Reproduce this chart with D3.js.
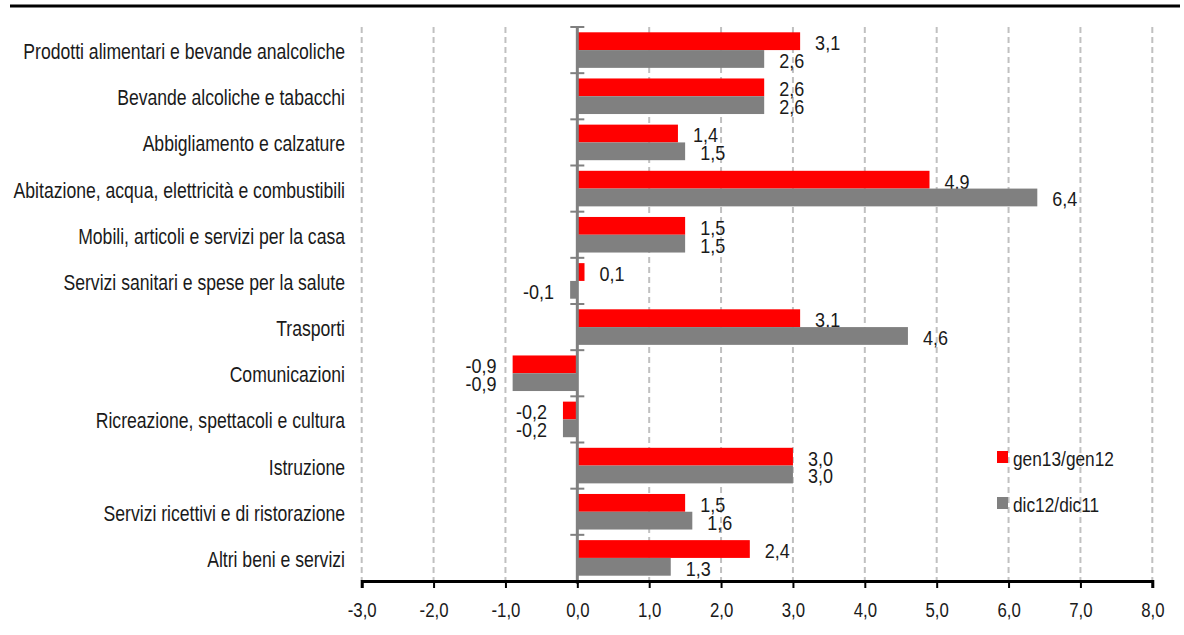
<!DOCTYPE html>
<html>
<head>
<meta charset="utf-8">
<title>Inflazione per capitolo</title>
<script src="https://cdnjs.cloudflare.com/ajax/libs/d3/7.8.5/d3.min.js"></script>
<style>
  html, body { margin: 0; background: #fff; }
  svg text { font-family: "Liberation Sans", Arial, sans-serif; fill: #1a1a1a; }
</style>
</head>
<body>
<svg id="chart" width="1184" height="635"></svg>
<script>
// capitoli di spesa
var categories = [
  "Prodotti alimentari e bevande analcoliche",
  "Bevande alcoliche e tabacchi",
  "Abbigliamento e calzature",
  "Abitazione, acqua, elettricità e combustibili",
  "Mobili, articoli e servizi per la casa",
  "Servizi sanitari e spese per la salute",
  "Trasporti",
  "Comunicazioni",
  "Ricreazione, spettacoli e cultura",
  "Istruzione",
  "Servizi ricettivi e di ristorazione",
  "Altri beni e servizi"
];
var seriesNames = ["gen13/gen12", "dic12/dic11"];
var gen13 = [3.1, 2.6, 1.4, 4.9, 1.5, 0.1, 3.1, -0.9, -0.2, 3.0, 1.5, 2.4];
var dic12 = [2.6, 2.6, 1.5, 6.4, 1.5, -0.1, 4.6, -0.9, -0.2, 3.0, 1.6, 1.3];
var xTicks = [-3, -2, -1, 0, 1, 2, 3, 4, 5, 6, 7, 8];
var colors = ["#ff0000", "#808080"];

var svg = d3.select("#chart");
var fmt = function(v) { return v.toFixed(1).replace(".", ","); };
// testo stretto tipo Arial Narrow: scala solo in orizzontale
var narrow = function(px, py, sx) { return "translate(" + px + "," + py + ") scale(" + sx + ",1)"; };

var x = d3.scaleLinear().domain([-3, 8]).range([361.7, 1152.3]);
var y = d3.scaleBand().domain(categories).range([27, 581]).padding(0);
var inner = d3.scaleBand().domain([0, 1]).range([5.3, y.bandwidth() - 5.3]);

// linea in alto
svg.append("line").attr("x1", 10).attr("x2", 1180).attr("y1", 6).attr("y2", 6)
  .attr("stroke", "#000").attr("stroke-width", 3);

// griglia tratteggiata
svg.append("g").selectAll("line").data(xTicks.filter(function(d){ return d !== 0; }))
  .join("line")
  .attr("x1", d => x(d)).attr("x2", d => x(d))
  .attr("y1", 27).attr("y2", 581)
  .attr("stroke", "#c0c0c0").attr("stroke-width", 2).attr("stroke-dasharray", "6,4");

// barre
var series = [gen13, dic12];
series.forEach(function(vals, si) {
  var g = svg.append("g");
  g.selectAll("rect").data(vals).join("rect")
    .attr("x", d => x(Math.min(0, d)))
    .attr("width", d => Math.abs(x(d) - x(0)))
    .attr("y", (d, i) => y(categories[i]) + inner(si))
    .attr("height", inner.bandwidth())
    .attr("fill", colors[si]);
  g.selectAll("text").data(vals).join("text")
    .attr("transform", (d, i) => narrow(d >= 0 ? x(d) + 15 : x(d) - 16,
                                       y(categories[i]) + inner(si) + inner.bandwidth(), 0.9))
    .attr("text-anchor", d => d >= 0 ? "start" : "end")
    .attr("font-size", 20)
    .text(fmt);
});

// asse dello zero con tacche
svg.append("line").attr("x1", x(0)).attr("x2", x(0)).attr("y1", 27).attr("y2", 584)
  .attr("stroke", "#808080").attr("stroke-width", 3);
svg.append("g").selectAll("line").data(d3.range(categories.length + 1))
  .join("line")
  .attr("x1", x(0) - 7).attr("x2", x(0) + 7)
  .attr("y1", i => 27 + i * y.step()).attr("y2", i => 27 + i * y.step())
  .attr("stroke", "#808080").attr("stroke-width", 2);

// etichette categorie
svg.append("g").selectAll("text").data(categories).join("text")
  .attr("transform", d => narrow(345, y(d) + y.bandwidth() / 2 + 9, 0.8))
  .attr("text-anchor", "end")
  .attr("font-size", 22)
  .text(d => d);

// asse x
var xAxis = svg.append("g").attr("transform", "translate(0,581)")
  .call(d3.axisBottom(x).tickValues(xTicks).tickSize(7).tickFormat(fmt));
xAxis.select(".domain").attr("stroke", "#000").attr("stroke-width", 3);
xAxis.selectAll(".tick line").attr("stroke", "#000").attr("stroke-width", 2);
xAxis.selectAll(".tick text")
  .attr("y", 0).attr("dy", null)
  .attr("transform", narrow(0, 36, 0.8))
  .attr("font-size", 21)
  .style("font-family", "'Liberation Sans', Arial, sans-serif").attr("fill", "#1a1a1a");

// legenda
var legend = svg.append("g");
seriesNames.forEach(function(name, i) {
  legend.append("rect").attr("x", 997).attr("y", 451 + i * 46).attr("width", 11).attr("height", 12)
    .attr("fill", colors[i]);
  legend.append("text").attr("transform", narrow(1013, 466 + i * 46, 0.865))
    .attr("font-size", 20).text(name);
});
</script>
</body>
</html>
